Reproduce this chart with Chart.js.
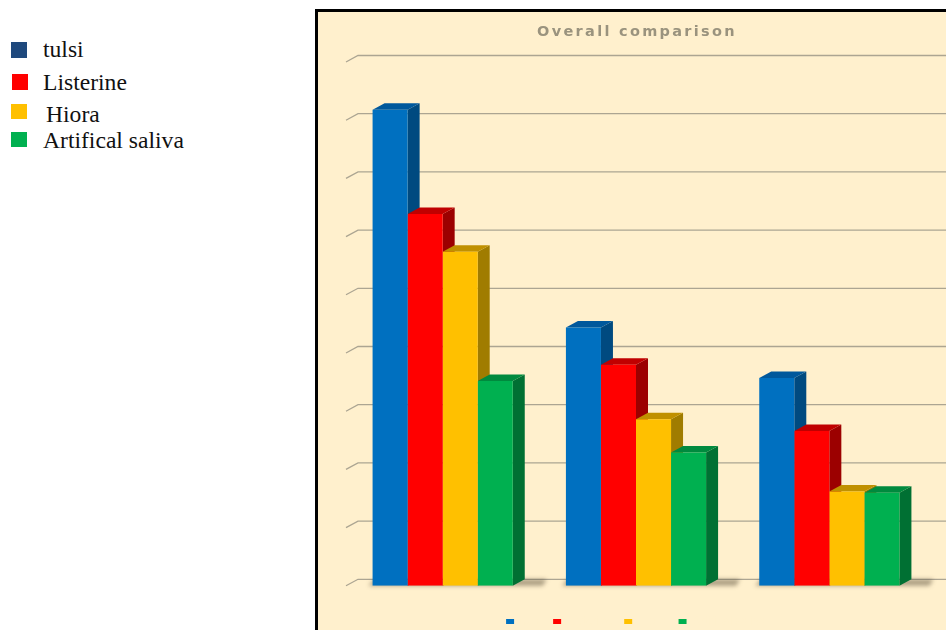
<!DOCTYPE html>
<html>
<head>
<meta charset="utf-8">
<script src="https://cdn.jsdelivr.net/npm/chart.js@4.4.1/dist/chart.umd.min.js"></script>
<style>
  html, body { margin: 0; padding: 0; width: 946px; height: 630px; overflow: hidden; background: #fff; }
  .key { position: absolute; font-family: 'Liberation Serif', 'Times New Roman', serif; font-size: 23.6px; line-height: 23px; color: #111; white-space: nowrap; }
  .sw { position: absolute; width: 16px; height: 16px; }
  #box { position: absolute; left: 315px; top: 9px; width: 660px; height: 660px; border: 3px solid #000; background: #fff0cd; }
  #wrap { position: absolute; left: 0; top: 0; width: 640px; height: 640px; }
</style>
</head>
<body>
  <!-- legenda a la izquierda, fuera del grafico -->
  <div class="sw" style="left:11px;top:42px;background:#1f497d"></div>
  <div class="key" style="left:43px;top:38px">tulsi</div>
  <div class="sw" style="left:12px;top:74px;background:#ff0000"></div>
  <div class="key" style="left:43px;top:71px">Listerine</div>
  <div class="sw" style="left:11px;top:104px;height:15px;background:#ffc000"></div>
  <div class="key" style="left:46px;top:103px">Hiora</div>
  <div class="sw" style="left:11px;top:132px;height:15px;background:#00b050"></div>
  <div class="key" style="left:43px;top:129px">Artifical saliva</div>

  <div id="box">
    <div id="wrap"><canvas id="chart"></canvas></div>
  </div>

<script>
  const categories = ['1', '2', '3'];
  const seriesNames = ['tulsi', 'Listerine', 'Hiora', 'Artifical saliva'];
  const tulsi = [8.18, 4.44, 3.57];
  const listerine = [6.39, 3.80, 2.66];
  const hiora = [5.74, 2.86, 1.62];
  const artSaliva = [3.52, 2.29, 1.60];
  const yTicks = [0, 1, 2, 3, 4, 5, 6, 7, 8, 9];

  // colores: frente, tapa, lado
  const fronts = ['#0070c0', '#ff0000', '#ffc000', '#00b050'];
  const tops = ['#00589c', '#c00000', '#c09000', '#008a3e'];
  const sides = ['#004a80', '#9c0000', '#a07c00', '#007033'];

  const DX = 12, DY = 6.5;
  const BG = '#fff0cd';

  const depthPlugin = {
    id: 'depth',
    beforeDatasetsDraw(chart) {
      const ctx = chart.ctx;
      const area = chart.chartArea;
      const y = chart.scales.y;

      // lineas de la grilla en el plano de atras
      ctx.save();
      ctx.strokeStyle = '#aca592';
      ctx.lineWidth = 1.3;
      yTicks.forEach(v => {
        const py = y.getPixelForValue(v);
        ctx.beginPath();
        ctx.moveTo(area.left, py);
        ctx.lineTo(area.left + DX, py - DY);
        ctx.lineTo(chart.width, py - DY);
        ctx.stroke();
      });
      ctx.restore();

      // sombra en el piso de cada grupo
      const first = chart.getDatasetMeta(0).data;
      const last = chart.getDatasetMeta(chart.data.datasets.length - 1).data;
      ctx.save();
      ctx.filter = 'blur(2px)';
      ctx.fillStyle = 'rgba(70,60,40,0.45)';
      first.forEach((b, i) => {
        const l = b.x - b.width / 2;
        const r = last[i].x + last[i].width / 2;
        const base = b.base;
        ctx.beginPath();
        ctx.moveTo(l - 4, base);
        ctx.lineTo(r + DX + 18, base);
        ctx.lineTo(r + DX + 22, base - DY);
        ctx.lineTo(l + DX - 10, base - DY);
        ctx.closePath();
        ctx.fill();
      });
      ctx.restore();

      // caras de lado y tapa, serie por serie
      chart.data.datasets.forEach((ds, di) => {
        chart.getDatasetMeta(di).data.forEach(b => {
          const l = b.x - b.width / 2;
          const r = b.x + b.width / 2;
          const t = b.y;
          const base = b.base;
          ctx.fillStyle = sides[di];
          ctx.beginPath();
          ctx.moveTo(r, t);
          ctx.lineTo(r + DX, t - DY);
          ctx.lineTo(r + DX, base - DY);
          ctx.lineTo(r, base);
          ctx.closePath();
          ctx.fill();
          ctx.fillStyle = tops[di];
          ctx.beginPath();
          ctx.moveTo(l, t);
          ctx.lineTo(r, t);
          ctx.lineTo(r + DX, t - DY);
          ctx.lineTo(l + DX, t - DY);
          ctx.closePath();
          ctx.fill();
        });
      });
    },
    afterDraw(chart) {
      // titulo con espaciado entre letras
      const ctx = chart.ctx;
      const area = chart.chartArea;
      ctx.save();
      ctx.font = 'bold 14.5px "DejaVu Sans", sans-serif';
      ctx.letterSpacing = '2.3px';
      ctx.fillStyle = '#9a937e';
      ctx.textAlign = 'center';
      ctx.textBaseline = 'alphabetic';
      ctx.fillText('Overall comparison', (area.left + area.right) / 2 + 1, 23.5);
      ctx.restore();
    }
  };

  const seriesData = [tulsi, listerine, hiora, artSaliva];

  new Chart(document.getElementById('chart'), {
    type: 'bar',
    data: {
      labels: categories,
      datasets: seriesNames.map((name, i) => ({
        label: name,
        data: seriesData[i],
        backgroundColor: fronts[i],
        borderWidth: 0,
        categoryPercentage: 0.725,
        barPercentage: 1.0
      }))
    },
    options: {
      responsive: true,
      maintainAspectRatio: false,
      animation: false,
      layout: { padding: { left: 28, right: 32, top: 50, bottom: 14.5 } },
      plugins: {
        title: { display: false },
        tooltip: { enabled: false },
        legend: {
          position: 'bottom',
          labels: {
            boxWidth: 8,
            boxHeight: 5,
            padding: 11.7,
            color: BG,
            font: { size: 12 }
          }
        }
      },
      scales: {
        x: {
          display: true,
          grid: { display: false },
          border: { display: false },
          ticks: { display: false },
          afterFit(scale) { scale.height = 18; }
        },
        y: {
          display: false,
          min: 0,
          max: 9
        }
      }
    },
    plugins: [depthPlugin]
  });
</script>
</body>
</html>
